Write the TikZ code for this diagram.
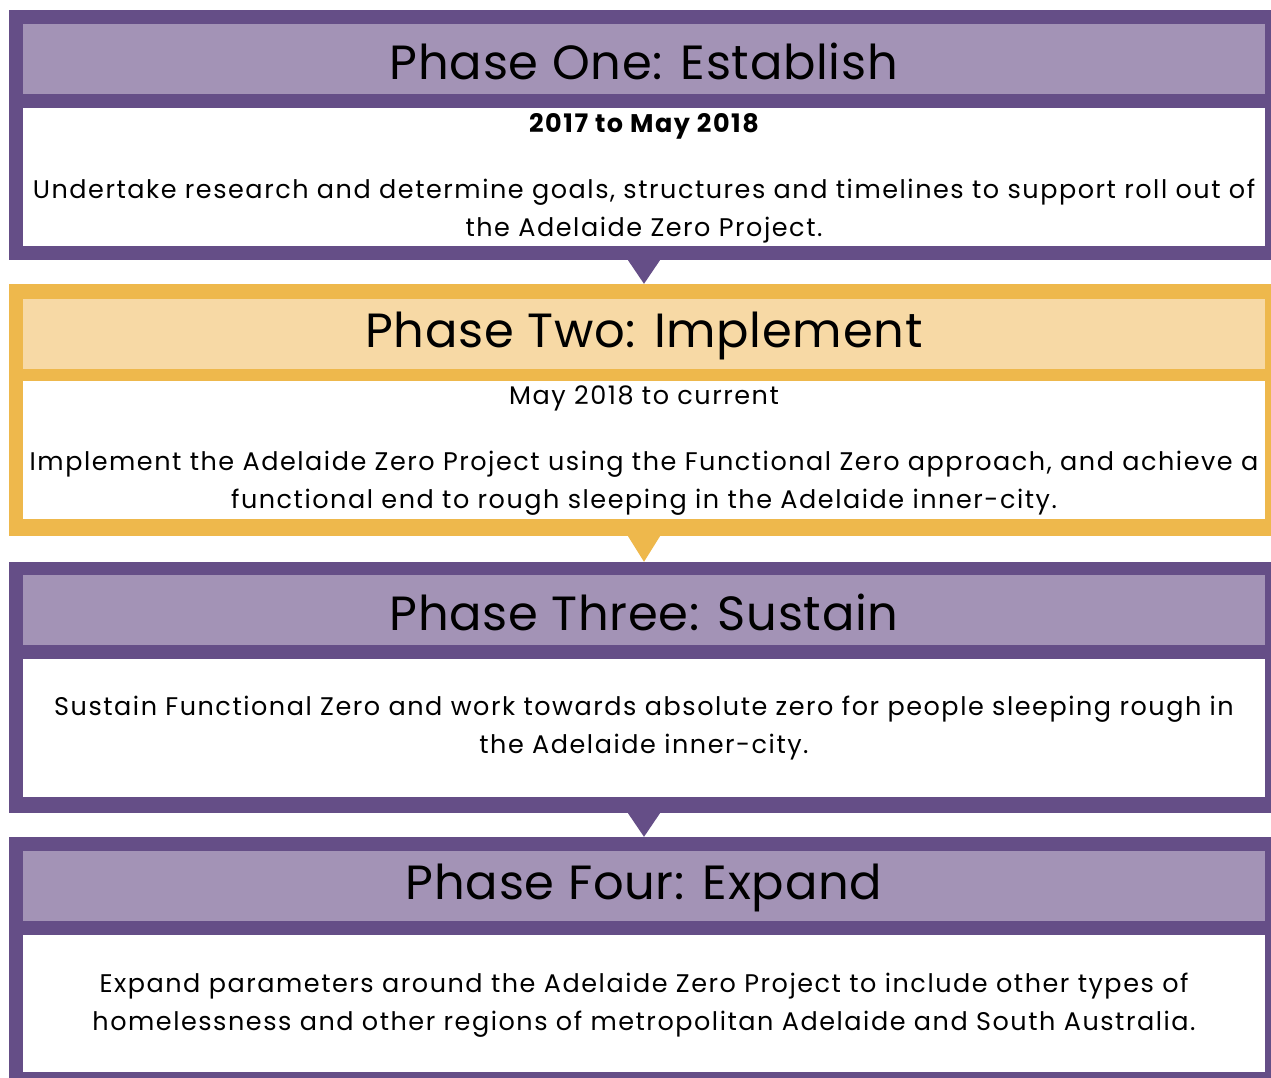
\documentclass[tikz,border=0pt]{standalone}
\usepackage{fontspec}
\setmainfont{Poppins}
\usepackage{xcolor}
\usepackage{tikz}
\usetikzlibrary{positioning}

\definecolor{plumdark}{HTML}{654E87}
\definecolor{plumlight}{HTML}{A393B6}
\definecolor{golddark}{HTML}{EEB84C}
\definecolor{goldlight}{HTML}{F7D9A5}

\tikzset{
  frame/.style={rectangle, inner sep=0pt, minimum width=1270pt, minimum height=#1},
  headbox/.style={rectangle, inner sep=0pt, minimum width=1242pt, minimum height=70pt},
  bodybox/.style={rectangle, inner sep=0pt, fill=white, minimum width=1242pt, minimum height=#1},
  headtext/.style={font=\fontsize{48}{56}\selectfont\addfontfeatures{LetterSpace=1.5}, text=black},
  bodytext/.style={font=\fontsize{25.5}{38}\selectfont\addfontfeatures{LetterSpace=6}, text=black, align=center}
}

\begin{document}
\begin{tikzpicture}[x=1pt,y=-1pt]

  \useasboundingbox (0,0) rectangle (1271,1077);

  % outer frames
  \node[frame=250pt, fill=plumdark] (ph1) at (644,135) {};
  \node[frame=252pt, fill=golddark] (ph2) at (644,410) {};
  \node[frame=251pt, fill=plumdark] (ph3) at (644,687.5) {};
  \node[frame=249pt, fill=plumdark] (ph4) at (644,961.5) {};

  % headers
  \node[headbox, fill=plumlight] (head1) at (644,59) {};
  \node[headbox, fill=goldlight] (head2) at (644,334) {};
  \node[headbox, fill=plumlight] (head3) at (644,610) {};
  \node[headbox, fill=plumlight] (head4) at (644,886) {};
  \node[headtext] at ([yshift=-2pt]head1) {Phase One: Establish};
  \node[headtext] at ([yshift=-2pt]head2) {Phase Two: Implement};
  \node[headtext] at ([yshift=-2pt]head3) {Phase Three: Sustain};
  \node[headtext] at ([yshift=-2pt]head4) {Phase Four: Expand};

  % bodies
  \node[bodybox=138pt] (body1) at (644,177) {};
  \node[bodybox=138pt] (body2) at (644,450) {};
  \node[bodybox=138pt] (body3) at (644,728) {};
  \node[bodybox=137pt] (body4) at (644,1003.5) {};

  \node[bodytext] at (644,126) {\bfseries 2017 to May 2018};
  \node[bodytext] at (644,211) {Undertake research and determine goals, structures and timelines to support roll out of\\the Adelaide Zero Project.};
  \node[bodytext] at (644,398) {May 2018 to current};
  \node[bodytext] at (644,483) {Implement the Adelaide Zero Project using the Functional Zero approach, and achieve a\\functional end to rough sleeping in the Adelaide inner-city.};
  \node[bodytext] at (644,728) {Sustain Functional Zero and work towards absolute zero for people sleeping rough in\\the Adelaide inner-city.};
  \node[bodytext] at (644,1005) {Expand parameters around the Adelaide Zero Project to include other types of\\homelessness and other regions of metropolitan Adelaide and South Australia.};

  % pointers
  \fill[plumdark] ([xshift=-16pt]ph1.south) -- ([xshift=16pt]ph1.south) -- (ph2.north) -- cycle;
  \fill[golddark] ([xshift=-16pt]ph2.south) -- ([xshift=16pt]ph2.south) -- (ph3.north) -- cycle;
  \fill[plumdark] ([xshift=-16pt]ph3.south) -- ([xshift=16pt]ph3.south) -- (ph4.north) -- cycle;

\end{tikzpicture}
\end{document}
